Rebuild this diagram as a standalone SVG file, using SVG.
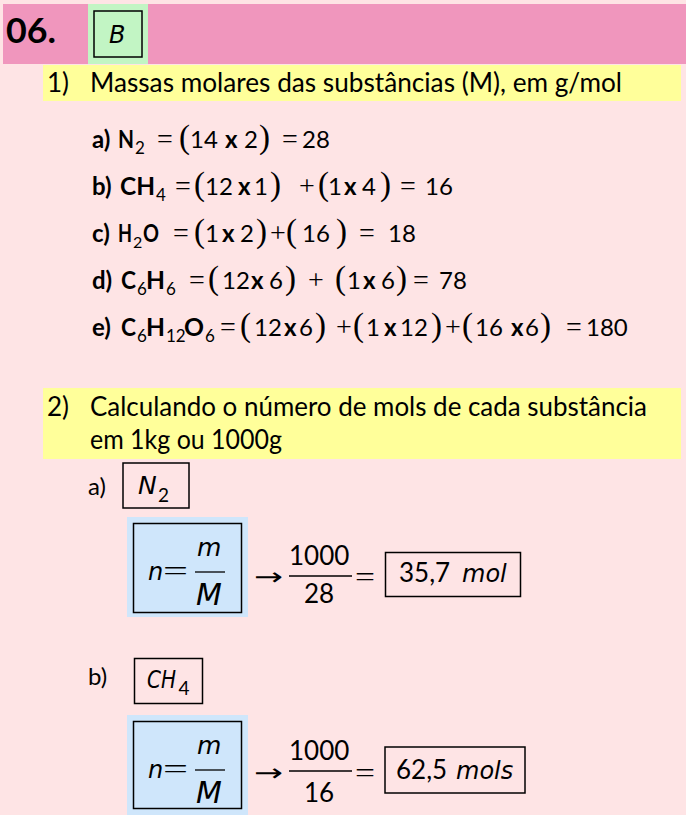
<svg xmlns="http://www.w3.org/2000/svg" width="686" height="815" viewBox="0 0 686 815">
<style>
text{font-family:Lato,"Liberation Sans",sans-serif;fill:#000}
.t{font-size:24px}
.b{font-weight:bold}
.s{font-size:17px}
.op{font-family:"Liberation Serif",serif;font-size:28px}
.p{font-family:"Liberation Serif",serif;font-size:33px}
.it{font-family:"DejaVu Sans",sans-serif;font-style:italic}
.ar{font-family:"DejaVu Sans",sans-serif;font-size:24px}
.box{fill:none;stroke:#000;stroke-width:1.5}
.bar{stroke:#000;stroke-width:1.3}
</style>
<rect x="0" y="0" width="686" height="815" fill="#FEE4E5"/>
<g id="header">
<rect x="3" y="4" width="683" height="60" fill="#F096BD"/>
<rect x="88" y="4" width="60" height="60" fill="#C2F5C4"/>
<text x="6" y="43" font-size="34" font-weight="bold" textLength="50" lengthAdjust="spacingAndGlyphs">06.</text>
<rect x="94" y="11" width="48" height="46" class="box"/>
<text x="109" y="43" class="it" font-size="24">B</text>
</g>
<g id="section1">
<rect x="43" y="65" width="638" height="36" fill="#FFFF9A"/>
<text x="47" y="92" font-size="26">1)</text>
<text x="90" y="92" font-size="26" textLength="532" lengthAdjust="spacingAndGlyphs">Massas molares das substâncias (M), em g/mol</text>
</g>
<g id="row-a" class="t">
<text x="92" y="148" class="b">a)</text>
<text x="118" y="148" class="b" textLength="16" lengthAdjust="spacingAndGlyphs">N</text>
<text x="135" y="154" class="s">2</text>
<text x="157" y="148" class="op">=</text>
<text x="179" y="148" class="p">(</text>
<text x="190" y="148">14</text>
<text x="225" y="148" class="b">x</text>
<text x="244" y="148">2</text>
<text x="259" y="148" class="p">)</text>
<text x="282" y="148" class="op">=</text>
<text x="302" y="148">28</text>
</g>
<g id="row-b" class="t">
<text x="92" y="195" class="b">b)</text>
<text x="120" y="195" class="b" textLength="35" lengthAdjust="spacingAndGlyphs">CH</text>
<text x="156" y="201" class="s">4</text>
<text x="175" y="195" class="op">=</text>
<text x="194" y="195" class="p">(</text>
<text x="205" y="195">12</text>
<text x="238" y="195" class="b">x</text>
<text x="254" y="195">1</text>
<text x="270" y="195" class="p">)</text>
<text x="299" y="195" class="op">+</text>
<text x="318" y="195" class="p">(</text>
<text x="328" y="195">1</text>
<text x="344" y="195" class="b">x</text>
<text x="362" y="195">4</text>
<text x="380" y="195" class="p">)</text>
<text x="400" y="195" class="op">=</text>
<text x="425" y="195">16</text>
</g>
<g id="row-c" class="t">
<text x="92" y="242" class="b">c)</text>
<text x="118" y="242" class="b" textLength="14" lengthAdjust="spacingAndGlyphs">H</text>
<text x="133" y="248" font-size="16">2</text>
<text x="143" y="242" class="b" textLength="16" lengthAdjust="spacingAndGlyphs">O</text>
<text x="173" y="242" class="op">=</text>
<text x="194" y="242" class="p">(</text>
<text x="205" y="242">1</text>
<text x="222" y="242" class="b">x</text>
<text x="240" y="242">2</text>
<text x="256" y="242" class="p">)</text>
<text x="270" y="242" class="op">+</text>
<text x="286" y="242" class="p">(</text>
<text x="302" y="242">16</text>
<text x="336" y="242" class="p">)</text>
<text x="359" y="242" class="op">=</text>
<text x="388" y="242">18</text>
</g>
<g id="row-d" class="t">
<text x="92" y="289" class="b">d)</text>
<text x="121" y="289" class="b" textLength="15" lengthAdjust="spacingAndGlyphs">C</text>
<text x="137" y="295" class="s">6</text>
<text x="146" y="289" class="b" textLength="19" lengthAdjust="spacingAndGlyphs">H</text>
<text x="166" y="295" class="s">6</text>
<text x="189" y="289" class="op">=</text>
<text x="208" y="289" class="p">(</text>
<text x="222" y="289">12</text>
<text x="251" y="289" class="b">x</text>
<text x="269" y="289">6</text>
<text x="285" y="289" class="p">)</text>
<text x="308" y="289" class="op">+</text>
<text x="335" y="289" class="p">(</text>
<text x="347" y="289">1</text>
<text x="363" y="289" class="b">x</text>
<text x="381" y="289">6</text>
<text x="396" y="289" class="p">)</text>
<text x="413" y="289" class="op">=</text>
<text x="439" y="289">78</text>
</g>
<g id="row-e" class="t">
<text x="92" y="336" class="b">e)</text>
<text x="121" y="336" class="b" textLength="15" lengthAdjust="spacingAndGlyphs">C</text>
<text x="137" y="342" class="s">6</text>
<text x="146" y="336" class="b" textLength="19" lengthAdjust="spacingAndGlyphs">H</text>
<text x="166" y="342" class="s">12</text>
<text x="184" y="336" class="b" textLength="20" lengthAdjust="spacingAndGlyphs">O</text>
<text x="205" y="342" class="s">6</text>
<text x="220" y="336" class="op">=</text>
<text x="240" y="336" class="p">(</text>
<text x="254" y="336">12</text>
<text x="284" y="336" class="b">x</text>
<text x="299" y="336">6</text>
<text x="315" y="336" class="p">)</text>
<text x="336" y="336" class="op">+</text>
<text x="353" y="336" class="p">(</text>
<text x="366" y="336">1</text>
<text x="384" y="336" class="b">x</text>
<text x="400" y="336">12</text>
<text x="431" y="336" class="p">)</text>
<text x="445" y="336" class="op">+</text>
<text x="462" y="336" class="p">(</text>
<text x="475" y="336">16</text>
<text x="511" y="336" class="b">x</text>
<text x="525" y="336">6</text>
<text x="540" y="336" class="p">)</text>
<text x="566" y="336" class="op">=</text>
<text x="586" y="336">180</text>
</g>
<g id="section2">
<rect x="43" y="388" width="638" height="71" fill="#FFFF9A"/>
<text x="47" y="416" font-size="26">2)</text>
<text x="90" y="416" font-size="26" textLength="557" lengthAdjust="spacingAndGlyphs">Calculando o número de mols de cada substância</text>
<text x="90" y="449" font-size="26" textLength="192" lengthAdjust="spacingAndGlyphs">em 1kg ou 1000g</text>
</g>
<g id="part-a">
<text x="88" y="495" font-size="24">a)</text>
<rect x="123" y="463" width="66" height="45" class="box"/>
<text x="138" y="494" class="it" font-size="25">N</text>
<text x="158" y="502" font-size="19">2</text>
<rect x="127" y="517" width="121" height="100" fill="#CFE6FB"/>
<rect x="133.5" y="523.5" width="108" height="89" class="box" stroke-width="2"/>
<text x="148" y="580" class="it" font-size="24">n</text>
<text x="163" y="580" class="op" textLength="25" lengthAdjust="spacingAndGlyphs">=</text>
<text x="197" y="556" class="it" font-size="25">m</text>
<line x1="195" y1="572" x2="225" y2="572" class="bar"/>
<text x="196" y="605" class="it" font-size="30">M</text>
<text x="254" y="585" class="ar" textLength="29" lengthAdjust="spacingAndGlyphs">→</text>
<text x="289" y="565" font-size="26">1000</text>
<line x1="289" y1="576" x2="352" y2="576" class="bar"/>
<text x="304" y="603" font-size="26">28</text>
<text x="355" y="586" class="op" textLength="20" lengthAdjust="spacingAndGlyphs">=</text>
<rect x="385.5" y="552.5" width="135" height="44" class="box"/>
<text x="399" y="582" font-size="26">35,7</text>
<text x="462" y="582" class="it" font-size="24">mol</text>
</g>
<g id="part-b">
<text x="88" y="685" font-size="24">b)</text>
<rect x="134.5" y="658.5" width="68" height="45" class="box"/>
<text x="147" y="688" class="it" font-size="24" textLength="29" lengthAdjust="spacingAndGlyphs">CH</text>
<text x="178.5" y="695" font-size="19">4</text>
<rect x="127" y="715" width="121" height="100" fill="#CFE6FB"/>
<rect x="133.5" y="721.5" width="108" height="87" class="box" stroke-width="2"/>
<text x="148" y="778" class="it" font-size="24">n</text>
<text x="163" y="778" class="op" textLength="25" lengthAdjust="spacingAndGlyphs">=</text>
<text x="197" y="754" class="it" font-size="25">m</text>
<line x1="195" y1="770" x2="225" y2="770" class="bar"/>
<text x="196" y="803" class="it" font-size="30">M</text>
<text x="254" y="781" class="ar" textLength="29" lengthAdjust="spacingAndGlyphs">→</text>
<text x="289" y="760" font-size="26">1000</text>
<line x1="289" y1="771" x2="352" y2="771" class="bar"/>
<text x="304" y="802" font-size="26">16</text>
<text x="355" y="782" class="op" textLength="20" lengthAdjust="spacingAndGlyphs">=</text>
<rect x="385" y="747" width="140" height="46" class="box" stroke-width="2.5"/>
<text x="396" y="779" font-size="26">62,5</text>
<text x="456" y="779" class="it" font-size="24">mols</text>
</g>
</svg>
